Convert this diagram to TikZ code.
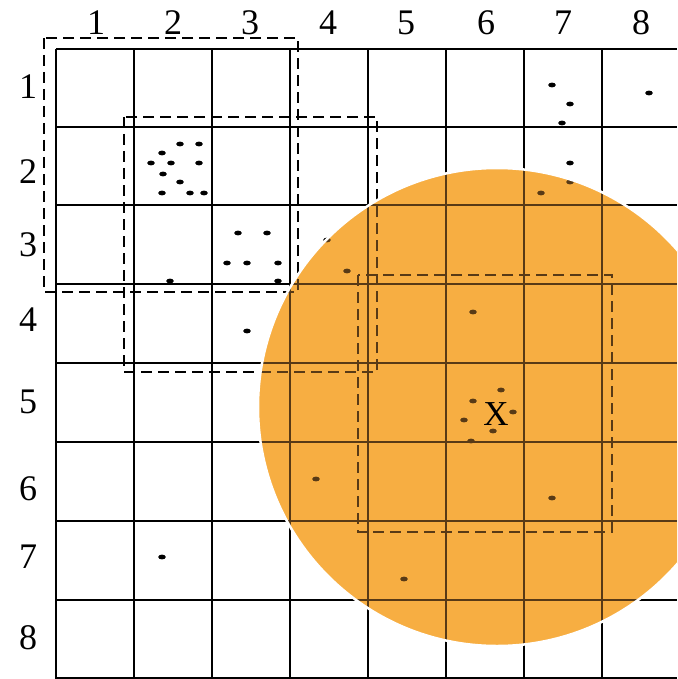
\documentclass[tikz,border=0pt]{standalone}
\usepackage{fontspec}
\setmainfont{Liberation Serif}
\definecolor{discorange}{RGB}{247,174,66}
\definecolor{inkbrown}{RGB}{88,58,22}
\tikzset{
  gridline/.style={line width=2pt},
  dashline/.style={line width=1.8pt, dash pattern=on 11pt off 6pt},
  lbl/.style={font=\fontsize{36}{36}\selectfont, inner sep=0pt, anchor=center},
  xlbl/.style={font=\fontsize{35}{35}\selectfont, inner sep=0pt, anchor=center},
}
\newcommand{\myspot}[3]{\fill[#1] (#2,#3) ellipse[x radius=3.8pt, y radius=2.4pt];}
\newcommand{\mywork}[1]{%
  \foreach \xx in {56,134,212,290,368,446,524,602}
    {\draw[gridline,#1] (\xx,49) -- (\xx,679);}
  \foreach \yy in {49,127,205,284,363,442,521,600,678}
    {\draw[gridline,#1] (56,\yy) -- (677,\yy);}
  \draw[dashline,#1] (44,38) rectangle (298,292);
  \draw[dashline,#1] (124,117) rectangle (377,372);
  \draw[dashline,#1] (358,275) rectangle (612,532);
  \foreach \px/\py in {180/144,199/144,162/153,151/163,171/163,199/163,163/174,180/182,162/193,190/193,204/193,
    238/233,267/233,227/263,247/263,278/263,170/281,278/281,247/331,162/557,
    552/85,570/104,562/123,649/93,570/163,570/182,541/193,327/240,
    347/271,473/312,501/390,473/401,513/412,464/420,493/431,471/441,316/479,552/498,404/579}
    {\myspot{#1}{\px}{\py}}%
}
\begin{document}
\begin{tikzpicture}[x=1pt,y=-1pt]
  \useasboundingbox (0,0) rectangle (677,679);
  \clip (0,0) rectangle (677,679);
  \mywork{black}
  \fill[discorange] (497,407) circle[radius=239pt];
  \begin{scope}
    \clip (497,407) circle[radius=239pt];
    \mywork{inkbrown}
  \end{scope}
  \draw[white, line width=2.5pt] (497,407) circle[radius=239pt];
  % column labels
  \node[lbl] (c1) at (96,23) {1};
  \node[lbl] (c2) at (173,23) {2};
  \node[lbl] (c3) at (250,23) {3};
  \node[lbl] (c4) at (328,23) {4};
  \node[lbl] (c5) at (406,23) {5};
  \node[lbl] (c6) at (486,23) {6};
  \node[lbl] (c7) at (563,23) {7};
  \node[lbl] (c8) at (641,23) {8};
  % row labels
  \node[lbl] (r1) at (28,87) {1};
  \node[lbl] (r2) at (28,172) {2};
  \node[lbl] (r3) at (28,245) {3};
  \node[lbl] (r4) at (28,320) {4};
  \node[lbl] (r5) at (28,402) {5};
  \node[lbl] (r6) at (28,489) {6};
  \node[lbl] (r7) at (28,557) {7};
  \node[lbl] (r8) at (28,638) {8};
  \node[xlbl] (xmark) at (496,414) {X};
\end{tikzpicture}
\end{document}
